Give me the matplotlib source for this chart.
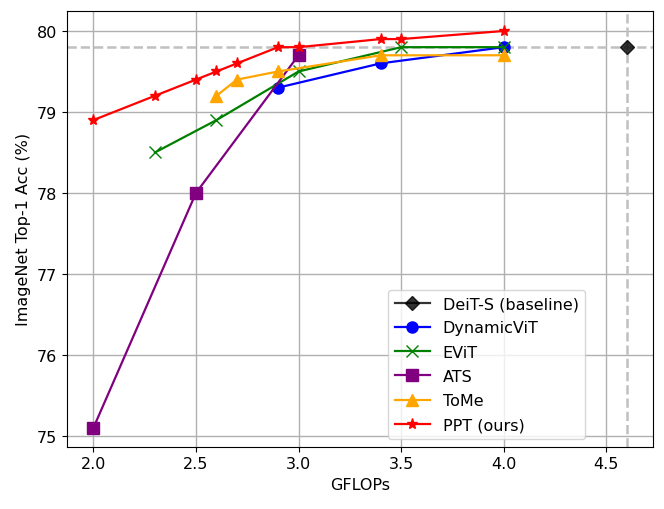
import matplotlib
matplotlib.use("Agg")
import matplotlib.pyplot as plt

deit_x = [4.6]
deit_y = [79.8]
dyn_x = [2.9, 3.4, 4.0]
dyn_y = [79.3, 79.6, 79.8]
evit_x = [2.3, 2.6, 3.0, 3.5, 4.0]
evit_y = [78.5, 78.9, 79.5, 79.8, 79.8]
ats_x = [2.0, 2.5, 3.0]
ats_y = [75.1, 78.0, 79.7]
tome_x = [2.6, 2.7, 2.9, 3.4, 4.0]
tome_y = [79.2, 79.4, 79.5, 79.7, 79.7]
ppt_x = [2.0, 2.3, 2.5, 2.6, 2.7, 2.9, 3.0, 3.4, 3.5, 4.0]
ppt_y = [78.9, 79.2, 79.4, 79.5, 79.6, 79.8, 79.8, 79.9, 79.9, 80.0]

fs = 11.5

fig, ax = plt.subplots(figsize=(6.64, 5.10), dpi=100)
ax.axhline(79.8, color="silver", linestyle="--", linewidth=1.8, zorder=1)
ax.axvline(4.6, color="silver", linestyle="--", linewidth=1.8, zorder=1)

lw = 1.6
ax.plot(deit_x, deit_y, color="black", marker="D", markersize=7, lw=lw, label="DeiT-S (baseline)", alpha=0.8)
ax.plot(dyn_x, dyn_y, color="blue", marker="o", markersize=8, lw=lw, label="DynamicViT")
ax.plot(evit_x, evit_y, color="green", marker="x", markersize=8, lw=lw, label="EViT")
ax.plot(ats_x, ats_y, color="purple", marker="s", markersize=8, lw=lw, label="ATS")
ax.plot(tome_x, tome_y, color="orange", marker="^", markersize=9, lw=lw, label="ToMe")
ax.plot(ppt_x, ppt_y, color="red", marker="*", markersize=8, lw=lw, label="PPT (ours)")

ax.set_xlim(1.870, 4.728)
ax.set_ylim(74.868, 80.25)
ax.set_xticks([2.0, 2.5, 3.0, 3.5, 4.0, 4.5])
ax.set_yticks([75, 76, 77, 78, 79, 80])
ax.grid(True, color="#b0b0b0", linewidth=1.0)
ax.set_axisbelow(True)
ax.tick_params(labelsize=fs)
ax.set_xlabel("GFLOPs", fontsize=fs)
ax.set_ylabel("ImageNet Top-1 Acc (%)", fontsize=fs)
ax.legend(loc="lower right", bbox_to_anchor=(0.884, 0.018), borderaxespad=0,
          fontsize=fs, handlelength=2.2, labelspacing=0.58)

fig.subplots_adjust(left=0.1005, right=0.9834, top=0.977, bottom=0.1222)
fig.savefig("out.png")
